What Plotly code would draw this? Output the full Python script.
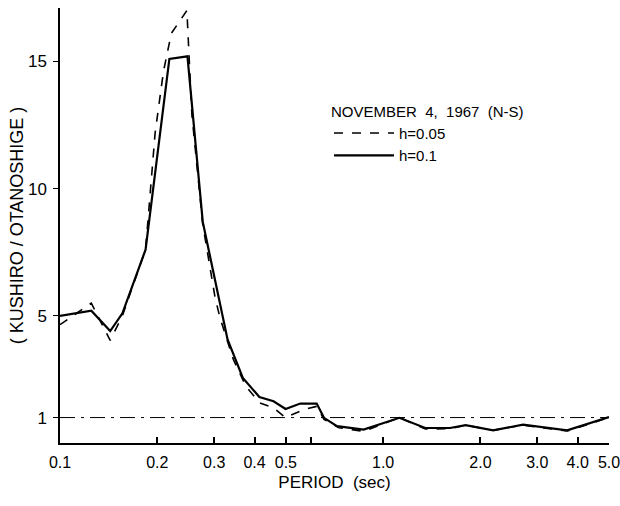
import plotly.graph_objects as go

# h = 0.1 (solid)
period_h01 = [0.100, 0.125, 0.143, 0.156, 0.184, 0.218, 0.248, 0.2765, 0.330, 0.368,
              0.414, 0.458, 0.499, 0.554, 0.623, 0.656, 0.720, 0.870, 1.123, 1.35,
              1.61, 1.80, 2.19, 2.71, 3.71, 4.68, 5.00]
ratio_h01 = [5.00, 5.20, 4.40, 5.10, 7.60, 15.10, 15.20, 8.70, 4.07, 2.56,
             1.81, 1.64, 1.34, 1.55, 1.55, 0.99, 0.66, 0.53, 0.99, 0.59,
             0.59, 0.70, 0.50, 0.72, 0.50, 0.90, 1.02]

# h = 0.05 (dashed)
period_h005 = [0.100, 0.125, 0.143, 0.156, 0.184, 0.197, 0.209, 0.221, 0.247, 0.256,
               0.2765, 0.302, 0.313, 0.344, 0.376, 0.415, 0.458, 0.499, 0.567, 0.623,
               0.656, 0.730, 0.870, 1.123, 1.35, 1.61, 1.80, 2.19, 2.71, 3.71, 4.68, 5.00]
ratio_h005 = [4.65, 5.50, 4.03, 5.00, 7.60, 12.20, 14.60, 16.10, 17.00, 12.90,
              8.60, 5.71, 4.90, 3.28, 2.23, 1.58, 1.38, 1.00, 1.31, 1.44,
              0.93, 0.60, 0.46, 1.00, 0.55, 0.56, 0.70, 0.50, 0.70, 0.47, 0.88, 1.02]

x_tickvals = [0.1, 0.2, 0.3, 0.4, 0.5, 0.6, 1.0, 2.0, 3.0, 4.0, 5.0]
x_ticktext = ["0.1", "0.2", "0.3", "0.4", "0.5", "", "1.0", "2.0", "3.0", "4.0", "5.0"]
y_tickvals = [1, 5, 10, 15]
y_ticktext = ["1", "5", "10", "15"]
reference_level = 1.0

FONT = "Liberation Sans"

fig = go.Figure()
fig.add_trace(go.Scatter(
    x=period_h005, y=ratio_h005, mode="lines", name="h=0.05",
    line=dict(color="black", width=1.6, dash="dash"),
))
fig.add_trace(go.Scatter(
    x=period_h01, y=ratio_h01, mode="lines", name="h=0.1",
    line=dict(color="black", width=2.2),
))
fig.add_hline(y=reference_level, line=dict(color="black", width=1, dash="longdashdot"))

fig.update_layout(
    width=620, height=506,
    margin=dict(l=60, r=11, t=8, b=63, autoexpand=False),
    paper_bgcolor="white", plot_bgcolor="white",
    font=dict(family=FONT, color="black", size=15),
    showlegend=True,
    legend=dict(
        x=0.49, y=0.795, xanchor="left", yanchor="top",
        bgcolor="rgba(0,0,0,0)",
        title=dict(text="NOVEMBER  4,  1967  (N-S)", font=dict(size=15, family=FONT)),
        font=dict(size=15, family=FONT),
        itemwidth=60, tracegroupgap=0,
    ),
)
fig.update_xaxes(
    type="log", range=[-1, 0.69897],
    tickvals=x_tickvals, ticktext=x_ticktext,
    ticks="inside", ticklen=6, tickwidth=1.5, tickcolor="black",
    showline=True, linecolor="black", linewidth=1.5,
    showgrid=False, zeroline=False,
    ticklabelstandoff=4, ticklabeloverflow="allow",
    title=dict(text="PERIOD  (sec)", font=dict(size=17, family=FONT), standoff=6),
    tickfont=dict(size=16, family=FONT),
)
fig.update_yaxes(
    range=[0, 17.1],
    tickvals=y_tickvals, ticktext=y_ticktext,
    ticks="outside", ticklen=5, tickwidth=1.2, tickcolor="black",
    showline=True, linecolor="black", linewidth=1.5,
    showgrid=False, zeroline=False,
    ticklabelstandoff=3,
    title=dict(text="( KUSHIRO / OTANOSHIGE )", font=dict(size=18, family=FONT), standoff=0),
    tickfont=dict(size=17, family=FONT),
)

fig.write_html("out.html")
